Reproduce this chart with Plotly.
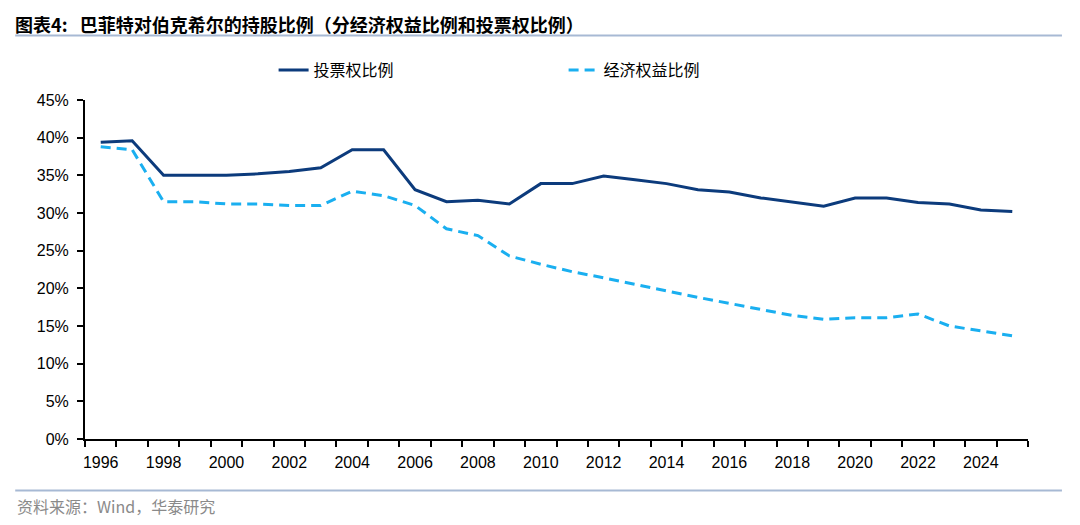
import plotly.graph_objects as go

# 巴菲特对伯克希尔的持股比例
years = list(range(1996, 2026))
voting = [39.4, 39.6, 35.0, 35.0, 35.0, 35.2, 35.5, 36.0, 38.4, 38.4,
          33.1, 31.5, 31.7, 31.2, 33.9, 33.9, 34.9, 34.4, 33.9, 33.1,
          32.8, 32.0, 31.4, 30.9, 32.0, 32.0, 31.4, 31.2, 30.4, 30.2]
economic = [38.8, 38.4, 31.5, 31.5, 31.2, 31.2, 31.0, 31.0, 32.9, 32.3,
            31.0, 27.9, 27.0, 24.3, 23.2, 22.2, 21.4, 20.5, 19.6, 18.8,
            18.0, 17.2, 16.4, 15.9, 16.1, 16.1, 16.6, 15.0, 14.3, 13.7]
label_years = list(range(1996, 2026, 2))

CJK = "Noto Sans CJK SC"
NUM = "Liberation Sans, Arial"

fig = go.Figure()
fig.add_trace(go.Scatter(x=years, y=[v / 100 for v in voting], name="投票权比例",
                         mode="lines", line=dict(color="#0c3b7c", width=3)))
fig.add_trace(go.Scatter(x=years, y=[v / 100 for v in economic], name="经济权益比例",
                         mode="lines", line=dict(color="#1aaff0", width=3, dash="10px,6px")))

fig.update_xaxes(range=[1995.5, 2025.5], tickvals=label_years, ticktext=[str(y) for y in label_years],
                 ticks="", showline=True, linecolor="black", linewidth=2, showgrid=False, zeroline=False,
                 tickfont=dict(family=NUM, size=16, color="black"), ticklabelstandoff=8,
                 minor=dict(ticks="outside", tick0=1995.5, dtick=1, ticklen=6, tickwidth=2,
                            tickcolor="black", showgrid=False))
fig.update_yaxes(range=[0, 0.45], dtick=0.05, tickformat=".0%", ticks="outside", ticklen=6, tickwidth=2,
                 tickcolor="black", showline=True, linecolor="black", linewidth=2, showgrid=False,
                 zeroline=False, tickfont=dict(family=NUM, size=16, color="black"), ticklabelstandoff=5)

# title / separator lines / source
fig.add_shape(type="line", xref="paper", yref="paper", x0=-0.074, x1=1.036, y0=1.19, y1=1.19,
              line=dict(color="#a7b9d4", width=2))
fig.add_shape(type="line", xref="paper", yref="paper", x0=-0.074, x1=1.036, y0=-0.152, y1=-0.152,
              line=dict(color="#a7b9d4", width=2))
fig.add_annotation(text="资料来源：Wind，华泰研究", xref="paper", yref="paper", x=-0.074, y=-0.198,
                   xanchor="left", yanchor="middle", showarrow=False,
                   font=dict(family=CJK, size=16, color="#8a8a8a"))

fig.update_layout(
    width=1080, height=525,
    margin=dict(l=77, r=60, t=92, b=94),
    plot_bgcolor="white", paper_bgcolor="white",
    title=dict(text="<b>图表4:\u00a0\u00a0\u00a0巴菲特对伯克希尔的持股比例（分经济权益比例和投票权比例）</b>",
               x=0.0065, xanchor="left", y=1, yanchor="top", pad=dict(t=11),
               font=dict(family=CJK, size=18, color="black")),
    legend=dict(orientation="h", x=0.2, xanchor="left", y=1.088, yanchor="middle",
                entrywidth=245, entrywidthmode="pixels",
                font=dict(family=CJK, size=16, color="black"), bgcolor="rgba(0,0,0,0)"),
)

fig.write_html("out.html")
